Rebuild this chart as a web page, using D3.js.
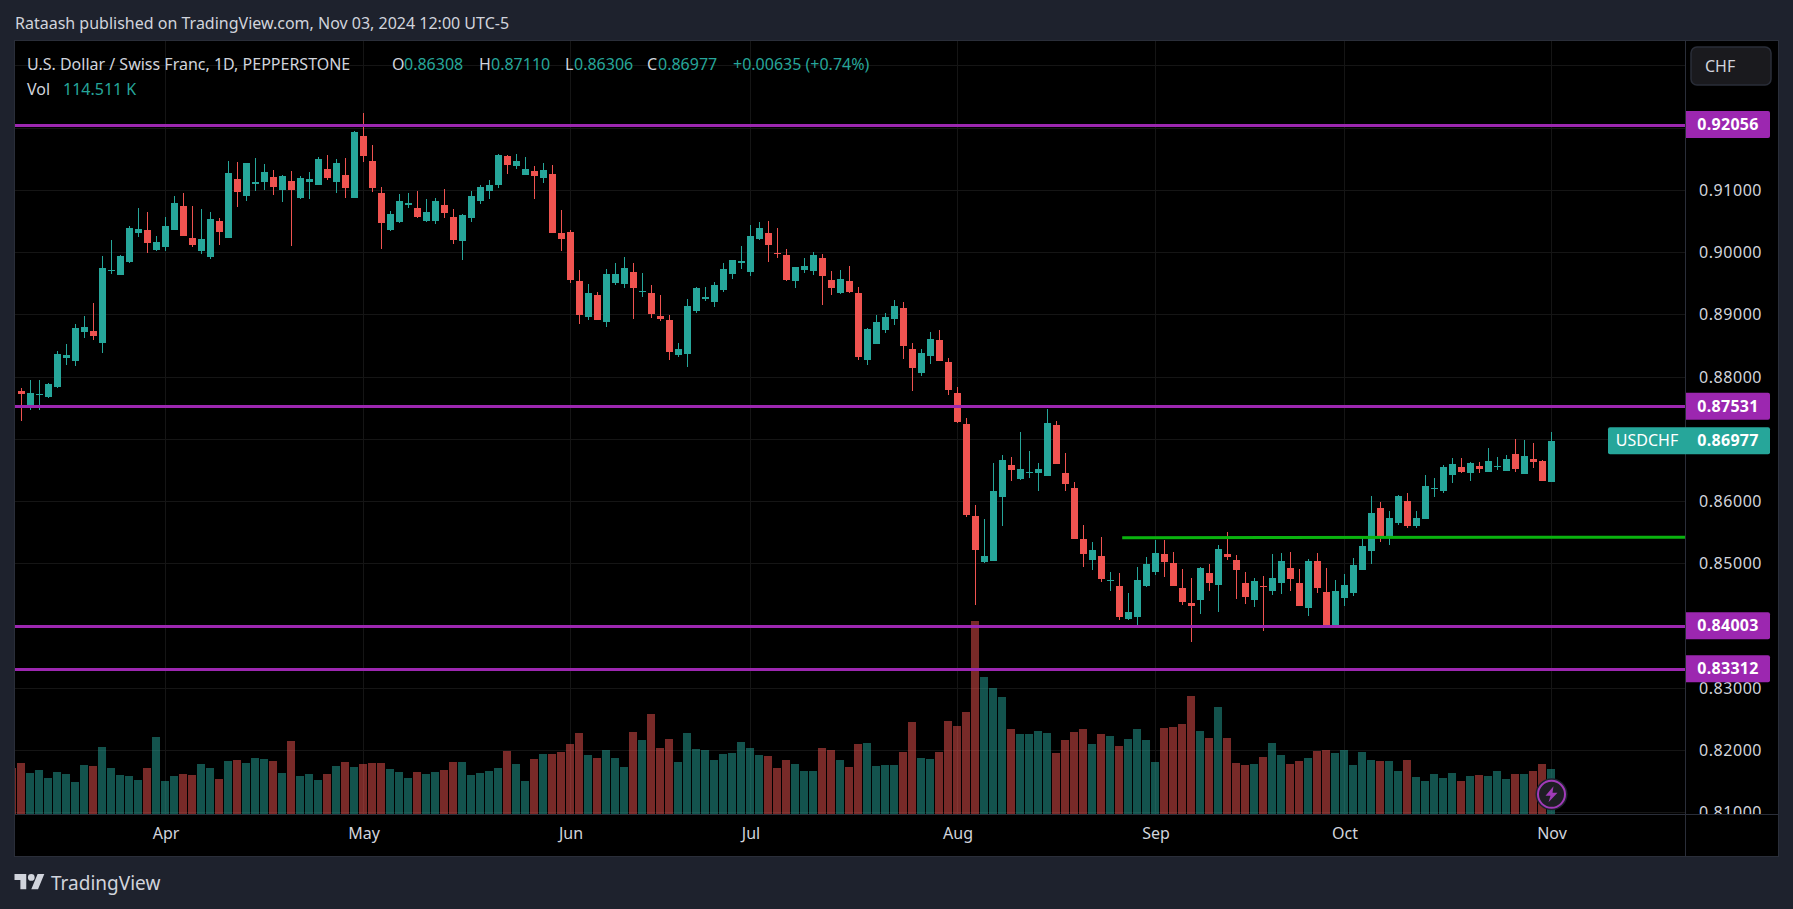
<!DOCTYPE html>
<html><head><meta charset="utf-8">
<script src="https://cdn.jsdelivr.net/npm/d3@7/dist/d3.min.js"></script>
<style>
html,body{margin:0;padding:0;background:#1e222d;overflow:hidden}
svg{display:block}
text{font-family:"Noto Sans",Roboto,sans-serif}
</style></head><body><svg id="c" width="1793" height="909"></svg>
<script>
const opens=[.87775,.87534,.87711,.87679,.87839,.88305,.88257,.88723,.88739,.88546,.89703,.89639,.89848,.90314,.90362,.90041,.90089,.90362,.90748,.90234,.90025,.89928,.90507,.90234,.91182,.90908,.91101,.91133,.91214,.91005,.91149,.90876,.91133,.91085,.91342,.91133,.91246,.90876,.91873,.91471,.90957,.90362,.90491,.90764,.90716,.90507,.90507,.90764,.90571,.90186,.90555,.90828,.90989,.91086,.91552,.91391,.91246,.91311,.91198,.91262,.90314,.90330,.89543,.88965,.89318,.88884,.89511,.89495,.89688,.89366,.89350,.88981,.88916,.88354,.88370,.89061,.89254,.89206,.89398,.89656,.89832,.89688,.90218,.90314,.89993,.89961,.89543,.89720,.89704,.89913,.89559,.89350,.89543,.89350,.88274,.88531,.88756,.88933,.89109,.88451,.88065,.88338,.88595,.88242,.87744,.87246,.85767,.85028,.85044,.86073,.86587,.86362,.86458,.86458,.86410,.87229,.86458,.86217,.85398,.85060,.85125,.84723,.84642,.84112,.84144,.84642,.84867,.85156,.85012,.84610,.84369,.84417,.84851,.84658,.85156,.85060,.84690,.84417,.84642,.84562,.84690,.84931,.84690,.84289,.85044,.84546,.84015,.84449,.84530,.84900,.85205,.85896,.85414,.85655,.86008,.85607,.85719,.86201,.86169,.86426,.86555,.86458,.86571,.86474,.86555,.86491,.86764,.86442,.86683,.86651,.86308];
const highs=[.87823,.87952,.87952,.87904,.88418,.88530,.88852,.88980,.89189,.89944,.90201,.89960,.90426,.90716,.90651,.90266,.90571,.90908,.90957,.90748,.90700,.90651,.90555,.91471,.91455,.91439,.91519,.91423,.91326,.91246,.91310,.91230,.91294,.91535,.91567,.91503,.91519,.91953,.92242,.91728,.91053,.90667,.90941,.90957,.90989,.90860,.90876,.91021,.90700,.90620,.90989,.91086,.91166,.91584,.91568,.91584,.91535,.91391,.91439,.91407,.90684,.90363,.89720,.89495,.89366,.89736,.89832,.89929,.89832,.89672,.89479,.89318,.88997,.88547,.89254,.89447,.89447,.89527,.89832,.89880,.90105,.90443,.90491,.90507,.90395,.90057,.89768,.89913,.90009,.89977,.89704,.89720,.89784,.89447,.88788,.88997,.89029,.89238,.89206,.88547,.88451,.88724,.88756,.88306,.87840,.87342,.85944,.85719,.86619,.86747,.86715,.87117,.86812,.86619,.87487,.87294,.86780,.86314,.85623,.85349,.85430,.84867,.84851,.84530,.84947,.85108,.85381,.85381,.85188,.84915,.84771,.84947,.84996,.85301,.85510,.85140,.84867,.84771,.84803,.85156,.85172,.85188,.84915,.85076,.85172,.84931,.84739,.84835,.85093,.85414,.86089,.85992,.85848,.86105,.86137,.85848,.86426,.86378,.86587,.86699,.86699,.86635,.86635,.86860,.86715,.86748,.87005,.86989,.86940,.86667,.87110];
const lows=[.87293,.87470,.87470,.87663,.87823,.88193,.88177,.88627,.88595,.88386,.89655,.89639,.89832,.90250,.89993,.90025,.90025,.90362,.90266,.90089,.89977,.89896,.90121,.90234,.90732,.90828,.90989,.91005,.90925,.90812,.90105,.90860,.90860,.91085,.91166,.90957,.90876,.90876,.91455,.90973,.90057,.90346,.90475,.90716,.90555,.90491,.90459,.90555,.90138,.89880,.90491,.90780,.90861,.91037,.91262,.91343,.91246,.90861,.91118,.90314,.90025,.89511,.88852,.88916,.88916,.88804,.89479,.89431,.88932,.89286,.88949,.88900,.88274,.88322,.88161,.89029,.89222,.89125,.89366,.89575,.89736,.89623,.90202,.89848,.89913,.89543,.89431,.89672,.89639,.89157,.89318,.89334,.89350,.88274,.88193,.88531,.88708,.88836,.88290,.87776,.88017,.88210,.88258,.87711,.87262,.85751,.84337,.85012,.85044,.85607,.86330,.86346,.86378,.86169,.86410,.86603,.86169,.85398,.84948,.84900,.84707,.84562,.84096,.84096,.83999,.84626,.84819,.84787,.84642,.84337,.83742,.84192,.84562,.84224,.85060,.84433,.84353,.84305,.83919,.84498,.84514,.84562,.84321,.84160,.84530,.84000,.84000,.84321,.84482,.84900,.84996,.85350,.85301,.85623,.85575,.85575,.85719,.86073,.86137,.86298,.86458,.86330,.86458,.86474,.86507,.86491,.86474,.86442,.86539,.86330,.86306];
const closes=[.87727,.87743,.87727,.87888,.88370,.88354,.88787,.88804,.88659,.89752,.89719,.89944,.90394,.90378,.90153,.90169,.90426,.90796,.90266,.90121,.90218,.90539,.90330,.91278,.90973,.91439,.91133,.91294,.91053,.91230,.91005,.91198,.91182,.91503,.91198,.91439,.91037,.91937,.91551,.91037,.90475,.90619,.90828,.90796,.90571,.90651,.90828,.90636,.90202,.90604,.90909,.91053,.91086,.91568,.91407,.91471,.91343,.91230,.91327,.90314,.90218,.89559,.88997,.89350,.88916,.89656,.89656,.89752,.89431,.89382,.89013,.88932,.88402,.88450,.89141,.89431,.89286,.89479,.89736,.89880,.89864,.90266,.90395,.90121,.89977,.89559,.89768,.89784,.89961,.89623,.89431,.89575,.89366,.88322,.88772,.88884,.88965,.89142,.88499,.88145,.88386,.88611,.88258,.87792,.87278,.85783,.85221,.85125,.86169,.86667,.86506,.86522,.86474,.86522,.87262,.86603,.86281,.85398,.85157,.85221,.84755,.84739,.84144,.84224,.84739,.84996,.85172,.85028,.84642,.84385,.84321,.84931,.84690,.85237,.85108,.84899,.84465,.84722,.84626,.84771,.85044,.84755,.84321,.85044,.84610,.84015,.84562,.84658,.84980,.85285,.85816,.85430,.85735,.86089,.85607,.85735,.86250,.86217,.86555,.86603,.86474,.86619,.86523,.86651,.86571,.86683,.86523,.86732,.86635,.86330,.86977];
// thousands of contracts
const volumes=[129.7,104.3,111.9,91.6,106.8,101.8,81.4,124.7,122.1,170.4,117.0,99.2,96.7,86.5,117.0,195.9,84.0,96.7,101.8,99.2,127.2,117.0,89.0,134.8,137.4,129.7,142.5,139.9,134.8,104.3,185.7,96.7,101.8,86.5,101.8,122.1,132.3,119.6,127.2,129.7,129.7,114.5,106.8,91.6,106.8,101.8,106.8,111.9,132.3,132.3,99.2,104.3,109.4,117.0,160.3,127.2,84.0,139.9,152.6,152.6,157.7,178.1,206.1,150.1,142.5,162.8,142.5,119.6,208.6,188.3,254.4,167.9,190.8,132.3,206.1,165.4,162.8,137.4,152.6,155.2,183.2,167.9,150.1,147.6,117.0,137.4,127.2,109.4,109.4,167.9,162.8,137.4,119.6,178.1,180.6,122.1,124.7,124.7,157.7,234.0,142.5,139.9,157.7,236.6,223.9,259.5,491.0,348.5,320.5,297.6,216.2,203.5,203.5,211.2,206.1,155.2,188.3,208.6,216.2,178.1,203.5,198.4,173.0,190.8,216.2,188.3,132.3,218.8,221.3,229.0,300.2,211.2,193.3,272.2,193.3,129.7,124.7,127.2,145.0,180.6,150.1,127.2,134.8,142.5,160.3,162.8,155.2,162.8,124.7,157.7,137.4,134.8,134.8,109.4,137.4,94.1,84.0,101.8,91.6,104.3,84.0,96.7,99.2,96.7,109.4,89.0,101.8,101.8,109.4,127.2,114.511];
const priorVolume=117.0; // session just off the left edge, a down day
const priceTicks=[.93,.92,.91,.90,.89,.88,.87,.86,.85,.84,.83,.82,.81];
const monthLabels=["Apr","May","Jun","Jul","Aug","Sep","Oct","Nov"];
const monthIndex=[16,38,61,81,104,126,147,170];
const levelPrices=[.92056,.87531,.84003,.83312];
const neckline=[{i:122.3,p:.85418},{i:186,p:.85428}];
const lastPrice=.86977;
const legendValues={O:"0.86308",H:"0.87110",L:"0.86306",C:"0.86977"};

const UP="#26a69a",DOWN="#ef5350",PURPLE="#9c27b0",TEXT="#d1d4dc",BORDER="#2a2e39",GRID="#151515",BG="#1e222d";
const PL=15,PR=1685,PT=41,PB=814,BOX_R=1778,BOX_B=856;

const svg=d3.select("#c");
const x=d3.scaleLinear().domain([0,170]).range([21.5,1551.5]);
const y=d3.scaleLinear().domain([.91,.81]).range([190.33,812.73]);
const yv=d3.scaleLinear().domain([0,491]).range([PB,PB-193]);

const defs=svg.append("defs");
defs.append("clipPath").attr("id","plot").append("rect").attr("x",PL).attr("y",PT).attr("width",PR-PL).attr("height",PB-PT);
defs.append("clipPath").attr("id","paxis").append("rect").attr("x",PR).attr("y",PT).attr("width",BOX_R-PR).attr("height",PB-PT);

// frame
svg.append("rect").attr("x",14.5).attr("y",40.5).attr("width",BOX_R-14).attr("height",BOX_B-40).attr("fill","#000").attr("stroke",BORDER);

const plot=svg.append("g").attr("clip-path","url(#plot)");
// grid
plot.append("g").selectAll("line").data(priceTicks).join("line")
 .attr("x1",PL).attr("x2",PR).attr("y1",d=>Math.floor(y(d))+.5).attr("y2",d=>Math.floor(y(d))+.5).attr("stroke",GRID);
plot.append("g").selectAll("line").data(monthIndex).join("line")
 .attr("x1",d=>Math.floor(x(d))+.5).attr("x2",d=>Math.floor(x(d))+.5).attr("y1",PT).attr("y2",PB).attr("stroke",GRID);

// volume
const idx=d3.range(opens.length);
const volG=plot.append("g").attr("shape-rendering","crispEdges");
volG.append("rect").attr("x",x(-1)-4.5).attr("width",8).attr("y",Math.round(yv(priorVolume))).attr("height",PB-Math.round(yv(priorVolume))).attr("fill",DOWN).attr("fill-opacity",.5);
volG.selectAll("rect.v").data(idx).join("rect").attr("class","v")
 .attr("x",i=>x(i)-4.5).attr("width",8)
 .attr("y",i=>Math.round(yv(volumes[i]))).attr("height",i=>PB-Math.round(yv(volumes[i])))
 .attr("fill",i=>closes[i]>=opens[i]?UP:DOWN).attr("fill-opacity",.5);

// candles
const cG=plot.append("g").attr("shape-rendering","crispEdges");
cG.selectAll("rect.w").data(idx).join("rect").attr("class","w")
 .attr("x",i=>x(i)-.5).attr("width",1)
 .attr("y",i=>Math.round(y(highs[i]))).attr("height",i=>Math.round(y(lows[i]))-Math.round(y(highs[i])))
 .attr("fill",i=>closes[i]>=opens[i]?UP:DOWN);
cG.selectAll("rect.b").data(idx).join("rect").attr("class","b")
 .attr("x",i=>x(i)-3.5).attr("width",7)
 .attr("y",i=>Math.round(y(Math.max(opens[i],closes[i]))))
 .attr("height",i=>Math.max(1,Math.round(y(Math.min(opens[i],closes[i])))-Math.round(y(Math.max(opens[i],closes[i])))))
 .attr("fill",i=>closes[i]>=opens[i]?UP:DOWN);

// horizontal levels
plot.append("g").attr("shape-rendering","crispEdges").selectAll("rect").data(levelPrices).join("rect")
 .attr("x",PL).attr("width",PR-PL).attr("y",d=>Math.floor(y(d)-.3)).attr("height",3).attr("fill",PURPLE);
plot.append("line").attr("x1",x(neckline[0].i)).attr("x2",x(neckline[1].i)).attr("y1",y(neckline[0].p)).attr("y2",y(neckline[1].p))
 .attr("stroke","#0ab30f").attr("stroke-width",3);

// axes
svg.append("line").attr("x1",PR+.5).attr("x2",PR+.5).attr("y1",PT).attr("y2",BOX_B).attr("stroke",BORDER);
svg.append("line").attr("x1",PL).attr("x2",BOX_R).attr("y1",PB+.5).attr("y2",PB+.5).attr("stroke",BORDER);

const yAxis=d3.axisRight(y).tickValues(priceTicks.slice(2)).tickFormat(d3.format(".5f")).tickSize(0).tickPadding(0);
const ya=svg.append("g").attr("clip-path","url(#paxis)").append("g").attr("transform","translate(1699,0)").call(yAxis);
ya.select(".domain").remove();
ya.selectAll("text").attr("fill",TEXT).style("font-size","16px").style("letter-spacing","0.55px");

const xAxis=d3.axisBottom(x).tickValues(monthIndex).tickFormat((d,i)=>monthLabels[i]).tickSize(0).tickPadding(0);
const xa=svg.append("g").attr("transform","translate(0,"+(PB+14)+")").call(xAxis);
xa.select(".domain").remove();
xa.selectAll("text").attr("fill",TEXT).style("font-size","16px").attr("dy","0.7em");

// price tags
function tag(p,color){
 const yy=y(p);
 const g=svg.append("g").attr("transform","translate(0,"+yy+")");
 g.append("path").attr("d","M1686,-13.5H1768a2,2 0 0 1 2,2V11.5a2,2 0 0 1 -2,2H1686Z").attr("fill",color);
 g.append("text").attr("x",1728).attr("text-anchor","middle").attr("dy","0.35em").attr("fill","#fff").attr("font-weight",700).style("font-size","16px").style("letter-spacing","0.3px").text(d3.format(".5f")(p));
}
levelPrices.forEach(p=>tag(p,PURPLE));
tag(lastPrice,UP);
const lg=svg.append("g").attr("transform","translate(0,"+y(lastPrice)+")");
lg.append("path").attr("d","M1686,-13.5H1610a2,2 0 0 0 -2,2V11.5a2,2 0 0 0 2,2H1686Z").attr("fill",UP);
lg.append("text").attr("x",1647).attr("text-anchor","middle").attr("dy","0.35em").attr("fill","#fff").style("font-size","16px").text("USDCHF");

// currency button
svg.append("rect").attr("x",1691).attr("y",47).attr("width",80).attr("height",38).attr("rx",6).attr("fill","#1a1a1e").attr("stroke",BORDER).attr("stroke-width",1.5);
svg.append("text").attr("x",1705).attr("y",71.5).attr("fill",TEXT).style("font-size","16px").text("CHF");

// header / legend
function t(xp,yp,s,c,fs){return svg.append("text").attr("x",xp).attr("y",yp).attr("fill",c).style("font-size",(fs||16)+"px").text(s);}
t(15,29,"Rataash published on TradingView.com, Nov 03, 2024 12:00 UTC-5","#d1d4dc",16);
t(27,70,"U.S. Dollar / Swiss Franc, 1D, PEPPERSTONE",TEXT);
[["O",392,404],["H",479,491],["L",565,574],["C",647,658]].forEach(([k,a,b])=>{t(a,70,k,TEXT);t(b,70,legendValues[k],UP);});
t(733,70,"+0.00635 (+0.74%)",UP);
t(27,95,"Vol",TEXT);
t(63,95,"114.511 K",UP);

// watermark logo
svg.append("path").attr("transform","translate(14.5,870.7) scale(0.84)")
 .attr("d","M14 22H7V11H0V4h14v18zM28 22h-8l7.5-18h8L28 22z").attr("fill","#d1d4dc");
svg.append("circle").attr("cx",14.5+20*.84).attr("cy",870.7+8*.84).attr("r",4*.84).attr("fill","#d1d4dc");
t(51,890,"TradingView","#d1d4dc",19);

// bolt badge
const bx=x(170),by=794.3;
svg.append("circle").attr("cx",bx).attr("cy",by).attr("r",16).attr("fill",BG);
svg.append("circle").attr("cx",bx).attr("cy",by).attr("r",13.5).attr("fill","#1e1e24").attr("stroke","#a13bb8").attr("stroke-width",2);
svg.append("path").attr("transform","translate("+bx+","+by+")").attr("d","M2,-8L-6,1.5H-1L-3,8L6,-1.5H1Z").attr("fill","#a13bb8");
</script></body></html>
